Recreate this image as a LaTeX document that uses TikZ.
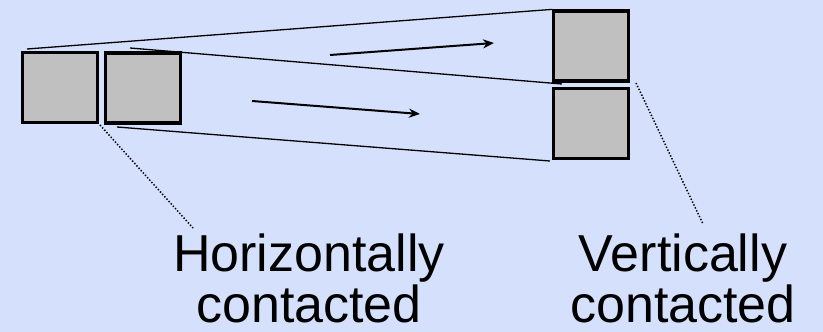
\documentclass[tikz,border=0pt]{standalone}
\usepackage{fontspec}
\setmainfont{Liberation Sans}
\usetikzlibrary{arrows.meta}
\definecolor{bgblue}{RGB}{213,225,252}
\definecolor{boxgray}{RGB}{192,192,192}
\begin{document}
\begin{tikzpicture}[x=1pt,y=-1pt,
  cell/.style={draw=black,fill=boxgray,line width=3.2pt,inner sep=0pt,minimum width=75pt,minimum height=70pt},
  thin line/.style={line width=1.3pt},
  move arrow/.style={line width=2pt,-{Stealth[length=11pt,width=9pt]}},
  pointer/.style={line width=1.5pt,dash pattern=on 1.4pt off 1.8pt},
  caption/.style={font=\fontsize{52}{51}\selectfont,align=center,inner sep=0pt,text depth=0pt,anchor=base}]
\fill[bgblue] (0,0) rectangle (823,332);
\useasboundingbox (0,0) rectangle (823,332);
% boxes
\node[cell] (h1) at (60,87.5) {};
\node[cell] (h2) at (143,88) {};
\node[cell] (v1) at (591,46) {};
\node[cell] (v2) at (591,123.5) {};
% guide line end points
\coordinate (l1s) at (27,49);
\coordinate (l2s) at (130,48);
\coordinate (l2e) at (562,84);
\coordinate (l3s) at (117,127);
\coordinate (l3e) at (550,161);
\draw[thin line] (l1s) -- (v1.north west);
\draw[thin line] (l2s) -- (l2e);
\draw[thin line] (l3s) -- (l3e);
% motion arrows
\coordinate (a1s) at (330,55);
\coordinate (a1e) at (494,43);
\coordinate (a2s) at (252,101);
\coordinate (a2e) at (420,114);
\draw[move arrow] (a1s) -- (a1e);
\draw[move arrow] (a2s) -- (a2e);
% captions (base anchor = baseline of the last line)
\node[caption] (hc) at (309,322) {Horizontally\\contacted};
\node[caption] (vc) at (683,322) {Vertically\\contacted};
% pointers
\coordinate (p1s) at (100,125);
\coordinate (p1e) at (193,228);
\coordinate (p2s) at (636,83);
\coordinate (p2e) at (703,224);
\draw[pointer] (p1s) -- (p1e);
\draw[pointer] (p2s) -- (p2e);
\end{tikzpicture}
\end{document}
